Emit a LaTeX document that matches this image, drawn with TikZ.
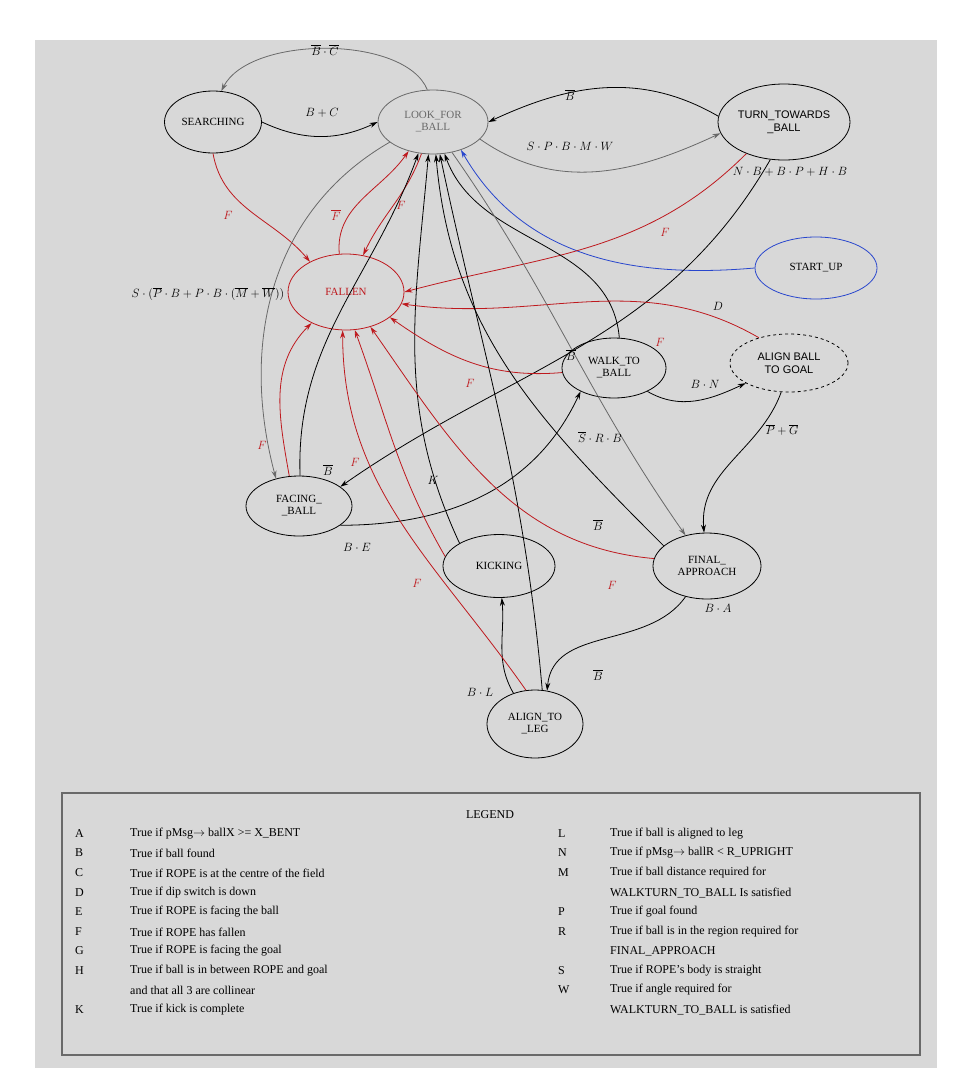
\documentclass[tikz,border=0pt]{standalone}
\usepackage{fontspec}
\setmainfont{Liberation Serif}
\newfontfamily\arialf{Liberation Sans}
\usetikzlibrary{shapes.geometric,arrows.meta}
\definecolor{bg}{RGB}{216,216,216}
\definecolor{rd}{RGB}{190,25,30}
\definecolor{gr}{RGB}{105,105,105}
\definecolor{bl}{RGB}{40,70,205}
\begin{document}
\begin{tikzpicture}[x=1pt,y=1pt,
 st/.style={ellipse,draw,thick,inner sep=0pt,font=\fontsize{11}{12}\selectfont,align=center},
 e/.style={-{Stealth[length=8pt,width=5pt]},thick},
 er/.style={e,rd},
 eg/.style={e,gr},
 lb/.style={font=\fontsize{12}{13}\selectfont\itshape,inner sep=1pt},
 lbr/.style={lb,text=rd},
 lg/.style={font=\fontsize{12}{14}\selectfont,anchor=west,inner sep=0pt}]
\useasboundingbox (0,0) rectangle (971,-1090);
\fill[white] (0,0) rectangle (971,-1090);
\fill[bg] (35,-40) rectangle (937,-1068);
% nodes
\node[st,minimum width=97,minimum height=62] (search) at (213,-122) {SEARCHING};
\node[st,draw=gr,text=gr,minimum width=110,minimum height=64] (look) at (433,-122) {LOOK\_FOR\\\_BALL};
\node[st,minimum width=132,minimum height=76,font=\arialf\fontsize{11}{13}\selectfont] (turn) at (784,-122) {TURN\_TOWARDS\\\_BALL};
\node[st,draw=bl,minimum width=122,minimum height=62] (start) at (816,-268) {START\_UP};
\node[st,draw=rd,text=rd,minimum width=116,minimum height=76] (fallen) at (346,-292) {FALLEN};
\node[st,minimum width=104,minimum height=60] (walk) at (614,-368) {WALK\_TO\\\_BALL};
\node[st,dashed,minimum width=118,minimum height=58,font=\arialf\fontsize{11}{13}\selectfont] (align) at (789,-363) {ALIGN BALL\\TO GOAL};
\node[st,minimum width=106,minimum height=60] (facing) at (299,-506) {FACING\_\\\_BALL};
\node[st,minimum width=112,minimum height=63] (kicking) at (499,-566) {KICKING};
\node[st,minimum width=108,minimum height=66] (final) at (707,-566) {FINAL\_\\APPROACH};
\node[st,minimum width=96,minimum height=68] (leg) at (535,-724) {ALIGN\_TO\\\_LEG};
% edges
\draw[eg] (look.100) .. controls (405,-35) and (250,-35) .. (search.75);
\draw[e] (search.east) to[out=-25,in=205] (look.west);
\draw[e] (turn.175) to[out=150,in=25] (look.east);
\draw[eg] (look.-20) to[out=-35,in=205] (turn.190);
\draw[e,bl] (start.west) to[out=185,in=-60] (look.-45);
\draw[er] (turn.220) to[out=225,in=15] (fallen.east);
\draw[er] (search.south) to[out=-80,in=130] (fallen.140);
\draw[er] (fallen.100) to[out=95,in=235] (look.230);
\draw[er] (look.250) to[out=250,in=65] (fallen.65);
\draw[eg] (look.205) to[out=210,in=105] (facing.130);
\draw[e] (turn.250) to[out=240,in=35] (facing.25);
\draw[e] (facing.88) to[out=92,in=250] (look.245);
\draw[er] (facing.108) to[out=100,in=225] (fallen.222);
\draw[e] (facing.-25) to[out=0,in=245] (walk.215);
\draw[e] (kicking.150) to[out=115,in=265] (look.262);
\draw[er] (kicking.170) to[out=120,in=290] (fallen.283);
\draw[er] (walk.185) to[out=185,in=-35] (fallen.-30);
\draw[e] (walk.80) to[out=95,in=-70] (look.-70);
\draw[e] (walk.-35) to[out=-30,in=205] (align.205);
\draw[er] (align.140) to[out=150,in=-8] (fallen.-12);
\draw[e] (align.255) to[out=250,in=95] (final.95);
\draw[e] (final.155) to[out=135,in=-85] (look.-85);
\draw[eg] (look.-58) to[out=-55,in=125] (final.125);
\draw[er] (final.172) to[out=175,in=-55] (fallen.-55);
\draw[e] (leg.78) to[out=95,in=-78] (look.-78);
\draw[e] (leg.125) to[out=120,in=-85] (kicking.-85);
\draw[er] (leg.105) to[out=125,in=-90] (fallen.-95);
\draw[e] (final.235) to[out=235,in=85] (leg.70);
% labels
\node[lb] (l1) at (325,-50) {$\overline{B}\cdot\overline{C}$};
\node[lb] (l2) at (322,-113) {$B+C$};
\node[lb] (l3) at (570,-95) {$\overline{B}$};
\node[lb] (l4) at (570,-146) {$S\cdot P\cdot B\cdot M\cdot W$};
\node[lb] (l5) at (790,-172) {$N\cdot B+B\cdot P+H\cdot B$};
\node[lb] (l6) at (718,-306) {$D$};
\node[lb] (l7) at (208,-294) {$S\cdot(\overline{P}\cdot B+P\cdot B\cdot(\overline{M}+\overline{W}))$};
\node[lbr] (f1) at (228,-215) {$F$};
\node[lbr] (f2) at (336,-215) {$\overline{F}$};
\node[lbr] (f3) at (401,-205) {$F$};
\node[lbr] (f4) at (665,-232) {$F$};
\node[lbr] (f5) at (660,-342) {$F$};
\node[lbr] (f6) at (470,-383) {$F$};
\node[lbr] (f7) at (355,-462) {$F$};
\node[lbr] (f8) at (262,-445) {$F$};
\node[lbr] (f9) at (612,-585) {$F$};
\node[lbr] (f10) at (417,-583) {$F$};
\node[lb] (l8) at (571,-355) {$\overline{B}$};
\node[lb] (l9) at (705,-384) {$B\cdot N$};
\node[lb] (l10) at (782,-430) {$\overline{P}+\overline{G}$};
\node[lb] (l11) at (328,-470) {$\overline{B}$};
\node[lb] (l12) at (433,-480) {$K$};
\node[lb] (l13) at (357,-547) {$B\cdot E$};
\node[lb] (l14) at (600,-437) {$\overline{S}\cdot R\cdot B$};
\node[lb] (l15) at (598,-525) {$\overline{B}$};
\node[lb] (l16) at (718,-608) {$B\cdot A$};
\node[lb] (l17) at (480,-692) {$B\cdot L$};
\node[lb] (l18) at (598,-675) {$\overline{B}$};
% legend
\draw[gr,line width=1.5pt] (62,-793) rectangle (920,-1055);
\node[font=\fontsize{12}{14}\selectfont] (lgt) at (490,-815) {LEGEND};
\foreach \y/\k/\t in {834/A/{True if pMsg$\rightarrow$ ballX >= X\_BENT},853/B/True if ball found,873/C/True if ROPE is at the centre of the field,893/D/True if dip switch is down,912/E/True if ROPE is facing the ball,932/F/True if ROPE has fallen,951/G/True if ROPE is facing the goal,971/H/True if ball is in between ROPE and goal,990//and that all 3 are collinear,1010/K/True if kick is complete}{
 \node[lg] at (75,-\y) {\k};
 \node[lg] at (130,-\y) {\t};}
\foreach \y/\k/\t in {834/L/True if ball is aligned to leg,853/N/{True if pMsg$\rightarrow$ ballR < R\_UPRIGHT},873/M/True if ball distance required for,893//WALKTURN\_TO\_BALL Is satisfied,912/P/True if goal found,932/R/True if ball is in the region required for,951//FINAL\_APPROACH,971/S/True if ROPE's body is straight,990/W/True if angle required for,1010//WALKTURN\_TO\_BALL is satisfied}{
 \node[lg] at (558,-\y) {\k};
 \node[lg] at (610,-\y) {\t};}
\end{tikzpicture}
\end{document}
